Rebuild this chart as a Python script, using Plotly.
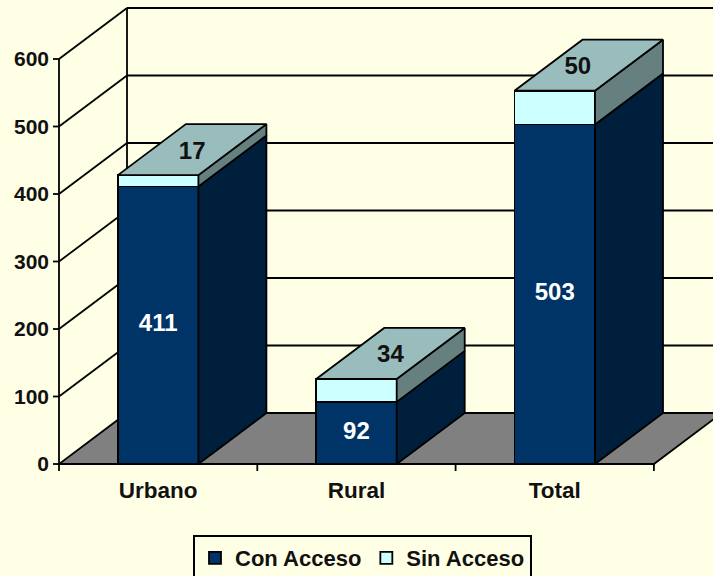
import plotly.graph_objects as go

categories = ["Urbano", "Rural", "Total"]
con_acceso = [411, 92, 503]
sin_acceso = [17, 34, 50]
y_ticks = [0, 100, 200, 300, 400, 500, 600]

BG = "#FFFFE5"
DARK = "#003366"
DARK_SIDE = "#001F3D"
LIGHT = "#CCFFFF"
LIGHT_SIDE = "#668080"
TOP = "#99BDBD"
FLOOR = "#808080"
FONT = "Liberation Sans"

# pixels per axis unit, the fake 3d depth is a fixed shear
PX_X = 198.3
PX_Y = 0.675
DX = 68 / PX_X
DY = 51 / PX_Y
BAR_W = 0.406
TICK_X = 6 / PX_X
TICK_Y = 7 / PX_Y

xpos = [i + 0.5 for i in range(len(categories))]
x_end = len(categories)
y_top = y_ticks[-1]

fig = go.Figure()
fig.add_trace(go.Bar(x=xpos, y=con_acceso, name="Con Acceso", width=BAR_W,
                     marker=dict(color=DARK, line=dict(color="black", width=1.8))))
fig.add_trace(go.Bar(x=xpos, y=sin_acceso, name="Sin Acceso", width=BAR_W,
                     marker=dict(color=LIGHT, line=dict(color="black", width=1.8))))


def face(xs, ys, color):
    fig.add_trace(go.Scatter(x=xs, y=ys, mode="lines", fill="toself", fillcolor=color,
                             line=dict(color="black", width=1.8), showlegend=False,
                             hoverinfo="skip"))


for x, con, sin in zip(xpos, con_acceso, sin_acceso):
    r = x + BAR_W / 2
    l = x - BAR_W / 2
    total = con + sin
    face([r, r + DX, r + DX, r, r], [0, DY, con + DY, con, 0], DARK_SIDE)
    face([r, r + DX, r + DX, r, r], [con, con + DY, total + DY, total, con], LIGHT_SIDE)
    face([l, l + DX, r + DX, r, l], [total, total + DY, total + DY, total, total], TOP)

# value labels, the 50 sits left of centre in the original
top_shift = [0, 0, -11 / PX_X]
fig.add_trace(go.Scatter(x=xpos, y=[c / 2 for c in con_acceso], mode="text",
                         text=[str(c) for c in con_acceso],
                         textfont=dict(family=FONT, size=24, color="white", weight="bold"),
                         showlegend=False, hoverinfo="skip"))
fig.add_trace(go.Scatter(x=[x + DX / 2 + s for x, s in zip(xpos, top_shift)],
                         y=[c + s + DY / 2 - 3 / PX_Y for c, s in zip(con_acceso, sin_acceso)],
                         mode="text", text=[str(s) for s in sin_acceso],
                         textfont=dict(family=FONT, size=24, color="#111111", weight="bold"),
                         showlegend=False, hoverinfo="skip"))

line = dict(color="black", width=1.8)
shapes = [
    # floor
    dict(type="path", layer="below", fillcolor=FLOOR, line=line,
         path=f"M 0 0 L {x_end} 0 L {x_end + DX} {DY} L {DX} {DY} Z"),
    # walls
    dict(type="line", layer="below", x0=0, x1=0, y0=0, y1=y_top, line=line),
    dict(type="line", layer="below", x0=DX, x1=DX, y0=DY, y1=y_top + DY, line=line),
]
# tick marks on the category axis
for i in range(len(categories) + 1):
    shapes.append(dict(type="line", layer="below", x0=i, x1=i, y0=0, y1=-TICK_Y, line=line))
for v in y_ticks:
    shapes.append(dict(type="line", layer="below", x0=-TICK_X, x1=0, y0=v, y1=v, line=line))
    if v > 0:
        shapes.append(dict(type="line", layer="below", x0=0, x1=DX, y0=v, y1=v + DY, line=line))
        shapes.append(dict(type="line", layer="below", x0=DX, x1=x_end + DX, y0=v + DY, y1=v + DY, line=line))

fig.update_layout(
    width=713, height=576, barmode="stack", paper_bgcolor=BG, plot_bgcolor=BG,
    margin=dict(l=50, r=0, t=0, b=102, autoexpand=False),
    font=dict(family=FONT, size=21, color="#111111", weight="bold"),
    shapes=shapes,
    showlegend=True,
    legend=dict(orientation="h", x=143 / 663, xanchor="left", y=-0.1287, yanchor="top",
                bgcolor=BG, bordercolor="black", borderwidth=2,
                font=dict(family=FONT, size=22, color="#111111", weight="bold"),
                traceorder="normal"),
    xaxis=dict(range=[-9 / PX_X, (713 - 59) / PX_X], tickvals=xpos, ticktext=categories,
               showgrid=False, zeroline=False, showline=False, ticks="",
               tickfont=dict(family=FONT, size=22.5, color="#111111", weight="bold")),
    yaxis=dict(range=[-10 / PX_Y, 464 / PX_Y], tickvals=y_ticks, showgrid=False,
               zeroline=False, showline=False, ticks=""),
)

# page margin off so the chart sits flush with the window
fig.write_html("out.html", config=dict(displayModeBar=False),
               post_script="document.body.style.margin='0';document.body.style.overflow='hidden';")
